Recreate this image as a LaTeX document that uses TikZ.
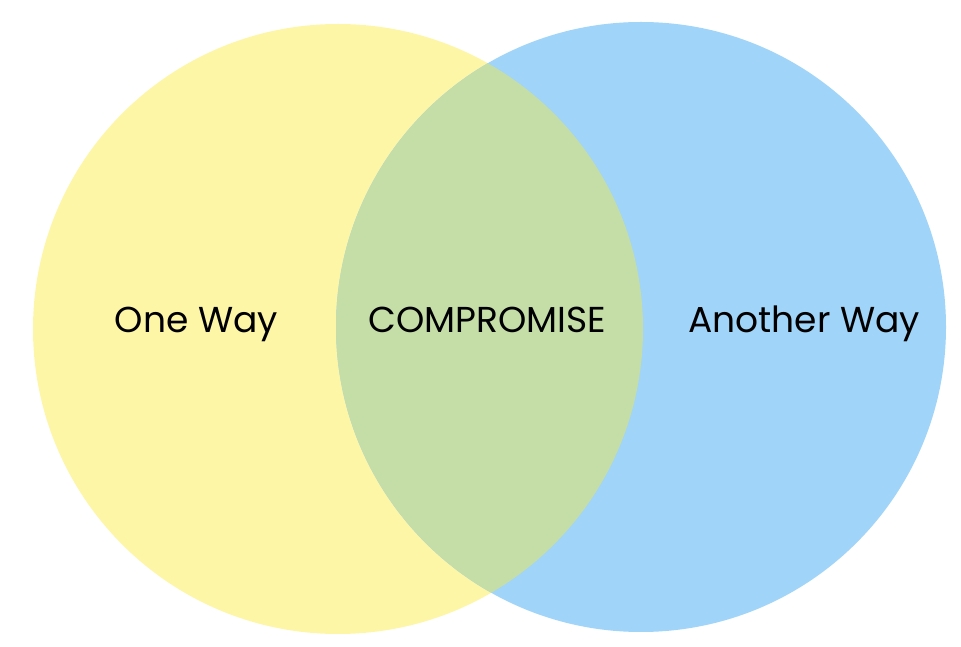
\documentclass[tikz,border=0pt]{standalone}
\usepackage{fontspec}
\setmainfont{Poppins}
\usepackage{tikz}
\definecolor{wayyellow}{HTML}{FDF6A7}
\definecolor{wayblue}{HTML}{A0D4F8}
\definecolor{waygreen}{HTML}{C5DDA7}
\begin{document}
\begin{tikzpicture}[label/.style={font=\fontsize{20.5}{24}\selectfont, text=black, anchor=base}]
    \useasboundingbox (0,0) rectangle (19.22,-12.94);
    % one way
    \fill[wayyellow] (6.76,-6.58) circle (6.1cm);
    % another way
    \fill[wayblue] (12.82,-6.54) circle (6.1cm);
    % overlap
    \begin{scope}
      \clip (6.76,-6.58) circle (6.1cm);
      \fill[waygreen] (12.82,-6.54) circle (6.1cm);
    \end{scope}
    \node[label] (one) at (3.93,-6.66) {One Way};
    \node[label] (mid) at (9.75,-6.66) {COMPROMISE};
    \node[label] (another) at (16.08,-6.66) {Another Way};
  \end{tikzpicture}
\end{document}
